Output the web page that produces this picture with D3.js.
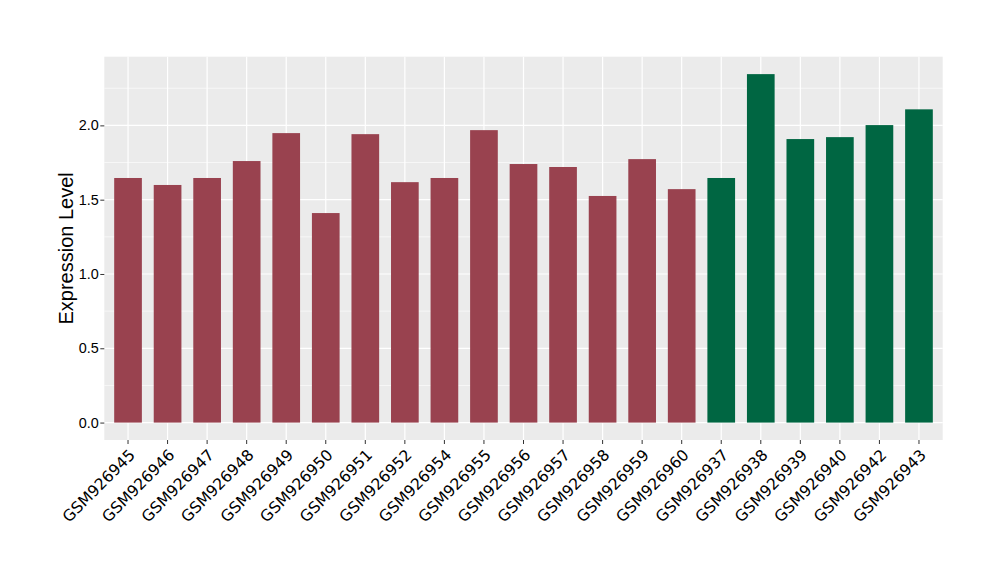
<!DOCTYPE html>
<html><head><meta charset="utf-8">
<script src="https://cdn.jsdelivr.net/npm/d3@7"></script>
<style>body{margin:0;background:#fff}</style>
</head><body>
<svg id="c" width="1000" height="580"></svg>
<script>
const categories = ["GSM926945","GSM926946","GSM926947","GSM926948","GSM926949","GSM926950","GSM926951","GSM926952","GSM926954","GSM926955","GSM926956","GSM926957","GSM926958","GSM926959","GSM926960","GSM926937","GSM926938","GSM926939","GSM926940","GSM926942","GSM926943"];
const values = [1.646,1.599,1.646,1.760,1.948,1.410,1.941,1.618,1.646,1.968,1.740,1.720,1.525,1.773,1.571,1.646,2.345,1.908,1.921,2.002,2.108];
const groups = ["a","a","a","a","a","a","a","a","a","a","a","a","a","a","a","b","b","b","b","b","b"];
const yTicks = [0,0.5,1.0,1.5,2.0];
const yMinor = [0.25,0.75,1.25,1.75,2.25];
const colors = {a:"#99424F", b:"#006642"};

const svg = d3.select("#c");
const L=104.3, R=942.7, T=56.7, B=440;
const maxV = d3.max(values);
const y = d3.scaleLinear().domain([-0.05*maxV, maxV*1.05]).range([B,T]);
const n = categories.length;
// ggplot discrete axis: expand 0.6 units on each side
const x = d3.scalePoint().domain(categories).range([L,R]).padding(0.6);
const unit = x.step();
const cx = d => x(d);

svg.append("rect").attr("x",L).attr("y",T).attr("width",R-L).attr("height",B-T).attr("fill","#EBEBEB");
const g = svg.append("g");
g.selectAll(".mn").data(yMinor).join("line")
 .attr("x1",L).attr("x2",R).attr("y1",d=>y(d)).attr("y2",d=>y(d))
 .attr("stroke","#fff").attr("stroke-width",0.6);
g.selectAll(".mj").data(yTicks).join("line")
 .attr("x1",L).attr("x2",R).attr("y1",d=>y(d)).attr("y2",d=>y(d))
 .attr("stroke","#fff").attr("stroke-width",1.2);
g.selectAll(".vx").data(categories).join("line")
 .attr("x1",d=>cx(d)).attr("x2",d=>cx(d)).attr("y1",T).attr("y2",B)
 .attr("stroke","#fff").attr("stroke-width",1.2);

svg.selectAll(".bar").data(categories).join("rect")
 .attr("x",d=>cx(d)-0.35*unit).attr("width",0.7*unit)
 .attr("y",(d,i)=>y(values[i])).attr("height",(d,i)=>y(0)-y(values[i]))
 .attr("fill",(d,i)=>colors[groups[i]]);

// y axis
const ya = svg.append("g").attr("transform",`translate(${L},0)`)
 .call(d3.axisLeft(y).tickValues(yTicks).tickFormat(d3.format(".1f")).tickSize(4).tickPadding(1.5));
ya.select(".domain").remove();
ya.selectAll("line").attr("stroke","#333");
ya.selectAll("text").attr("fill","#000").attr("font-family","Liberation Sans, Arial, sans-serif").attr("font-size","14.4px");

// x axis
const xa = svg.append("g");
xa.selectAll("line").data(categories).join("line")
 .attr("x1",d=>cx(d)).attr("x2",d=>cx(d)).attr("y1",B).attr("y2",B+4).attr("stroke","#333");
xa.selectAll("text").data(categories).join("text")
 .attr("transform",d=>`translate(${cx(d)+8},${B+16}) rotate(-45)`)
 .attr("text-anchor","end")
 .attr("font-family","DejaVu Sans, sans-serif").attr("font-size","15.6px").attr("fill","#000")
 .text(d=>d);

svg.append("text").attr("transform",`translate(73,${(T+B)/2}) rotate(-90)`)
 .attr("text-anchor","middle").attr("font-family","Liberation Sans, Arial, sans-serif")
 .attr("font-size","20px").attr("fill","#000").text("Expression Level");
</script>
</body></html>
